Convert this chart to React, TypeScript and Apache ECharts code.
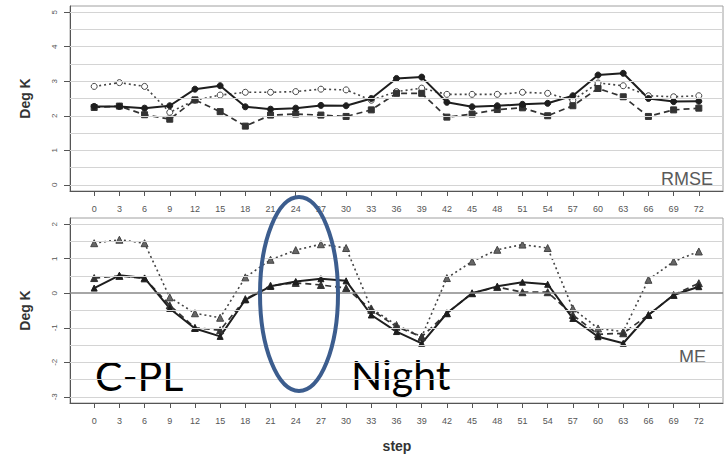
import React, { useEffect, useRef } from "react";
import * as echarts from "echarts";

// Forecast step (hours)
const steps = [0, 3, 6, 9, 12, 15, 18, 21, 24, 27, 30, 33, 36, 39, 42, 45, 48, 51, 54, 57, 60, 63, 66, 69, 72];

// Axis tick values
const rmseTicks = [0, 1, 2, 3, 4, 5];
const meTicks = [-3, -2, -1, 0, 1, 2];

// RMSE (Deg K)
const rmseSolid = [2.27, 2.27, 2.22, 2.29, 2.77, 2.87, 2.26, 2.19, 2.22, 2.3, 2.29, 2.5, 3.08, 3.12, 2.39, 2.26, 2.29, 2.33, 2.36, 2.58, 3.18, 3.23, 2.5, 2.41, 2.42];
const rmseDashed = [2.24, 2.28, 2.03, 1.9, 2.46, 2.12, 1.7, 2.02, 2.05, 2.02, 1.98, 2.17, 2.65, 2.65, 1.96, 2.05, 2.18, 2.23, 2.0, 2.29, 2.79, 2.55, 1.98, 2.17, 2.22];
const rmseDotted = [2.85, 2.96, 2.85, 2.1, 2.45, 2.6, 2.68, 2.68, 2.7, 2.77, 2.75, 2.45, 2.7, 2.8, 2.62, 2.62, 2.62, 2.68, 2.65, 2.45, 2.95, 2.87, 2.58, 2.55, 2.58];

// ME (Deg K)
const meSolid = [0.15, 0.52, 0.44, -0.44, -1.02, -1.25, -0.19, 0.2, 0.34, 0.42, 0.36, -0.63, -1.11, -1.45, -0.58, 0.0, 0.2, 0.32, 0.26, -0.73, -1.26, -1.45, -0.63, -0.05, 0.19];
const meDashed = [0.44, 0.5, 0.43, -0.35, -1.0, -1.07, -0.17, 0.22, 0.3, 0.24, 0.15, -0.48, -0.97, -1.26, -0.58, 0.0, 0.18, 0.03, 0.03, -0.63, -1.19, -1.16, -0.63, -0.05, 0.29];
const meDotted = [1.45, 1.55, 1.45, -0.12, -0.58, -0.71, 0.46, 0.97, 1.25, 1.42, 1.31, -0.44, -0.92, -1.26, 0.44, 0.92, 1.26, 1.41, 1.31, -0.44, -1.02, -1.11, 0.39, 0.92, 1.21];

const FONT = "Liberation Sans, Arial, sans-serif";

const pairs = (vals: number[]) => steps.map((s, i) => [s, vals[i]]);

// light horizontal rules every half unit between the first and last tick
const halfLines = (ticks: number[]) => {
  const out: number[] = [];
  for (let v = ticks[0]; v <= ticks[ticks.length - 1] + 1e-9; v += 0.5) out.push(v);
  return out;
};

export default function App() {
  const ref = useRef<HTMLDivElement>(null);

  useEffect(() => {
    if (!ref.current) return;
    const chart = echarts.init(ref.current, undefined, { renderer: "svg" });

    const xAxis = (gridIndex: number) => ({
      type: "value",
      gridIndex,
      min: -2.88,
      max: 74.88,
      axisLine: { show: true, onZero: false, lineStyle: { color: "#555", width: 1 } },
      axisTick: { show: true, customValues: steps, length: 5, lineStyle: { color: "#555" } },
      axisLabel: {
        show: true,
        hideOverlap: false,
        customValues: steps,
        margin: 13,
        fontFamily: FONT,
        fontSize: 9,
        color: "#555",
      },
      splitLine: { show: false },
    });

    const yAxis = (gridIndex: number, ticks: number[]) => ({
      type: "value",
      gridIndex,
      min: ticks[0] - 0.18,
      max: ticks[ticks.length - 1] + 0.18,
      name: "Deg K",
      nameLocation: "middle",
      nameGap: 38,
      nameTextStyle: { fontFamily: FONT, fontSize: 14, fontWeight: "bold", color: "#333" },
      axisLine: { show: true, onZero: false, lineStyle: { color: "#555", width: 1 } },
      axisTick: { show: true, customValues: ticks, length: 6, lineStyle: { color: "#555" } },
      axisLabel: { customValues: ticks, rotate: 90, margin: 12, fontFamily: FONT, fontSize: 8, color: "#555" },
      splitLine: { show: false },
    });

    const rules = (idx: number, ticks: number[], zeroBold: boolean) => ({
      type: "line",
      xAxisIndex: idx,
      yAxisIndex: idx,
      data: [],
      z: 1,
      silent: true,
      markLine: {
        silent: true,
        symbol: ["none", "none"],
        label: { show: false },
        lineStyle: { color: "#d4d4d4", width: 1, type: "solid" },
        data: halfLines(ticks).map((v) =>
          zeroBold && v === 0
            ? { yAxis: v, lineStyle: { color: "#888", width: 1.5, type: "solid" } }
            : { yAxis: v }
        ),
      },
    });

    const line = (
      idx: number,
      vals: number[],
      lineType: any,
      color: string,
      width: number,
      symbol: string,
      size: number,
      fill: string
    ) => ({
      type: "line",
      xAxisIndex: idx,
      yAxisIndex: idx,
      data: pairs(vals),
      z: 3,
      symbol,
      symbolSize: size,
      showSymbol: true,
      lineStyle: { color, width, type: lineType },
      itemStyle: { color: fill, borderColor: color, borderWidth: 1 },
    });

    const option: any = {
      animation: false,
      backgroundColor: "#ffffff",
      grid: [
        { left: 70, right: 4, top: 6, height: 185, show: true, borderColor: "#a0a0a0", borderWidth: 1 },
        { left: 70, right: 4, top: 218, height: 185, show: true, borderColor: "#a0a0a0", borderWidth: 1 },
      ],
      xAxis: [xAxis(0), xAxis(1)],
      yAxis: [yAxis(0, rmseTicks), yAxis(1, meTicks)],
      series: [
        rules(0, rmseTicks, false),
        rules(1, meTicks, true),
        line(0, rmseDotted, [2, 3], "#444", 1.6, "circle", 6, "#ffffff"),
        line(0, rmseDashed, [6, 4], "#333", 1.7, "rect", 6, "#333"),
        line(0, rmseSolid, "solid", "#1e1e1e", 2, "circle", 6, "#1e1e1e"),
        line(1, meDotted, [2, 3], "#444", 1.6, "triangle", 7, "#666"),
        line(1, meDashed, [6, 4], "#333", 1.7, "triangle", 7, "#333"),
        line(1, meSolid, "solid", "#1e1e1e", 2, "triangle", 6, "#1e1e1e"),
      ],
      graphic: [
        {
          type: "text",
          x: 397,
          y: 446,
          style: {
            text: "step",
            fontFamily: FONT,
            fontSize: 14,
            fontWeight: "bold",
            fill: "#333",
            align: "center",
            verticalAlign: "middle",
          },
        },
        {
          type: "text",
          right: 14,
          top: 170,
          style: { text: "RMSE", fontFamily: FONT, fontSize: 18, fill: "#5a5a5a" },
        },
        {
          type: "text",
          right: 21,
          top: 348,
          style: { text: "ME", fontFamily: FONT, fontSize: 18, fill: "#5a5a5a" },
        },
        {
          type: "text",
          x: 95,
          y: 375,
          style: { text: "C-PL", fontFamily: "Lato, sans-serif", fontSize: 41, fill: "#000", verticalAlign: "middle" },
        },
        {
          type: "text",
          x: 351,
          y: 374,
          style: { text: "Night", fontFamily: "Lato, sans-serif", fontSize: 41, fill: "#000", verticalAlign: "middle" },
        },
        {
          type: "ellipse",
          shape: { cx: 299, cy: 294, rx: 39, ry: 97 },
          style: { fill: "none", stroke: "#3c5d8e", lineWidth: 4 },
          z: 10,
        },
      ],
    };

    chart.setOption(option);
    return () => chart.dispose();
  }, []);

  return (
    <div
      ref={ref}
      style={{ position: "absolute", left: 0, top: 0, width: 727, height: 459, background: "#fff" }}
    />
  );
}
